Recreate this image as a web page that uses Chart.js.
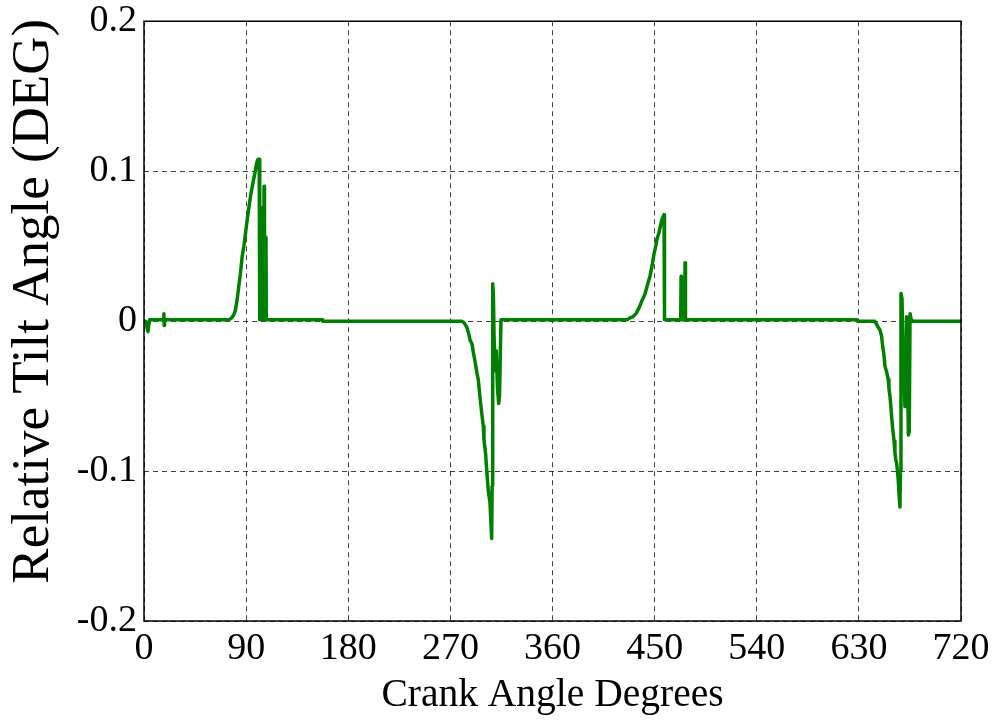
<!DOCTYPE html>
<html>
<head>
<meta charset="utf-8">
<script src="https://cdn.jsdelivr.net/npm/chart.js@4.4.1/dist/chart.umd.min.js"></script>
<style>
  html, body { margin: 0; padding: 0; background: #ffffff; }
  canvas { display: block; }
</style>
</head>
<body>
<canvas id="chart" width="1001" height="722"></canvas>
<script>
// Crank angle (deg) and relative tilt angle (deg) samples
const crankAngle = [
  0, 1.5, 2.5, 3.5, 4.3, 5,
  17.2, 17.5, 17.8, 18.1,
  75, 77, 79, 80.5, 82, 83.5, 85, 86.5, 88, 89.5, 91, 92.5, 94, 95.5, 97, 98.5, 99.5, 100.5, 101.5,
  102, 102.6, 102.9, 103.2, 105.4, 105.8, 106.2, 107.2, 107.5, 107.8,
  157, 157.5,
  280, 282, 284.5, 286, 287.5, 289, 290.5, 292, 293.5, 294.6, 296, 297.6, 299, 299.6, 301, 302, 303.4, 304.9, 305.8, 306.4,
  306.8, 307.3, 307.9, 308.5, 309.5, 310.5, 311.5, 312.6, 313.3, 314.6,
  426, 428, 431, 433.6, 437, 439, 441.5, 444, 445.9, 448, 449.5, 451, 452.1, 453.5, 454.7, 456.5, 458.3, 458.7,
  473, 473.3, 473.6, 476.5, 476.8, 477.2,
  628, 628.5,
  644, 645.5, 647, 648.6, 650, 651, 652, 653, 654.5, 655.9, 656.5, 657.4, 658.2, 658.9, 659.6, 660.3, 661, 661.8, 662.5, 663.3, 664, 664.7, 665.4, 666.2,
  666.6, 667.1, 668.0, 669.1, 670.6, 671.3, 672.1, 672.8, 673.6, 674.4, 675.1, 676, 676.6,
  720
];
const tiltAngle = [
  0, 0, -0.004, -0.007, -0.002, 0.001,
  0.001, 0.005, -0.003, 0.001,
  0.001, 0.002, 0.004, 0.007, 0.014, 0.023, 0.032, 0.043, 0.050, 0.059, 0.068, 0.076, 0.084, 0.090, 0.096, 0.102, 0.106, 0.108, 0.108,
  0.001, 0.001, 0.076, 0.001, 0.001, 0.090, 0.001, 0.001, 0.056, 0.001,
  0.001, 0,
  0, -0.001, -0.004, -0.008, -0.013, -0.015, -0.022, -0.028, -0.035, -0.039, -0.050, -0.061, -0.070, -0.079, -0.088, -0.099, -0.113, -0.121, -0.135, -0.145,
  -0.110, 0.025, 0.018, -0.010, -0.033, -0.020, -0.045, -0.055, -0.050, 0.001,
  0.001, 0.002, 0.003, 0.005, 0.010, 0.014, 0.018, 0.025, 0.030, 0.038, 0.045, 0.050, 0.055, 0.058, 0.062, 0.068, 0.071, 0.001,
  0.001, 0.030, 0.001, 0.001, 0.039, 0.001,
  0.001, 0,
  0, -0.002, -0.004, -0.006, -0.010, -0.017, -0.022, -0.030, -0.034, -0.039, -0.045, -0.050, -0.057, -0.064, -0.070, -0.075, -0.080, -0.088, -0.092, -0.095, -0.100, -0.106, -0.115, -0.124,
  -0.100, 0.0185, 0.015, -0.024, -0.057, -0.040, 0.003, -0.030, -0.076, -0.074, 0.005, 0.001, 0,
  0
];

// Axis ticks
const xTickValues = [0, 90, 180, 270, 360, 450, 540, 630, 720];
const yTickValues = [-0.2, -0.1, 0, 0.1, 0.2];
const yTickLabels = ['-0.2', '-0.1', '0', '0.1', '0.2'];

const points = crankAngle.map((x, i) => ({ x: x, y: tiltAngle[i] }));

const serif = '"Liberation Serif", "Times New Roman", Times, serif';

// Solid frame around the plotting area
const frame = {
  id: 'frame',
  afterDatasetsDraw(chart) {
    const { ctx, chartArea: a } = chart;
    ctx.save();
    ctx.strokeStyle = '#000000';
    ctx.lineWidth = 1.5;
    ctx.setLineDash([]);
    ctx.strokeRect(a.left, a.top, a.right - a.left, a.bottom - a.top);
    ctx.restore();
  }
};

new Chart(document.getElementById('chart'), {
  type: 'scatter',
  data: {
    datasets: [{
      data: points,
      showLine: true,
      borderColor: '#008000',
      backgroundColor: '#008000',
      borderWidth: 3.5,
      pointRadius: 0,
      tension: 0,
      borderJoinStyle: 'round',
      borderCapStyle: 'round'
    }]
  },
  options: {
    responsive: false,
    animation: false,
    devicePixelRatio: 1,
    layout: { padding: { left: 0, right: 40, top: 0, bottom: 0 } },
    plugins: { legend: { display: false }, tooltip: { enabled: false } },
    scales: {
      x: {
        type: 'linear',
        min: 0,
        max: 720,
        afterBuildTicks(scale) { scale.ticks = xTickValues.map(v => ({ value: v })); },
        afterFit(scale) { scale.height = 101; },
        ticks: {
          color: '#000000',
          padding: 7,
          maxRotation: 0,
          font: { family: serif, size: 38, lineHeight: 1.1 },
          callback: (v) => String(v)
        },
        grid: { color: 'rgba(0,0,0,0.75)', lineWidth: 1, drawTicks: false },
        border: { display: false, dash: [5, 4] },
        title: {
          display: true,
          text: 'Crank Angle Degrees',
          color: '#000000',
          font: { family: serif, size: 39.5, lineHeight: 1.2 },
          padding: { top: 0, bottom: 3 }
        }
      },
      y: {
        type: 'linear',
        min: -0.2,
        max: 0.2,
        afterBuildTicks(scale) { scale.ticks = yTickValues.map(v => ({ value: v })); },
        afterFit(scale) { scale.width = 144; },
        ticks: {
          color: '#000000',
          padding: 7,
          font: { family: serif, size: 38, lineHeight: 0.75 },
          callback: (v) => {
            const i = yTickValues.findIndex(t => Math.abs(t - v) < 1e-9);
            return i >= 0 ? yTickLabels[i] : '';
          }
        },
        grid: { color: 'rgba(0,0,0,0.75)', lineWidth: 1, drawTicks: false },
        border: { display: false, dash: [5, 4] },
        title: {
          display: true,
          text: '   Relative Tilt Angle (DEG)',
          color: '#000000',
          font: { family: serif, size: 53, lineHeight: 1.2 },
          padding: { top: 2, bottom: 0 }
        }
      }
    }
  },
  plugins: [frame]
});
</script>
</body>
</html>
